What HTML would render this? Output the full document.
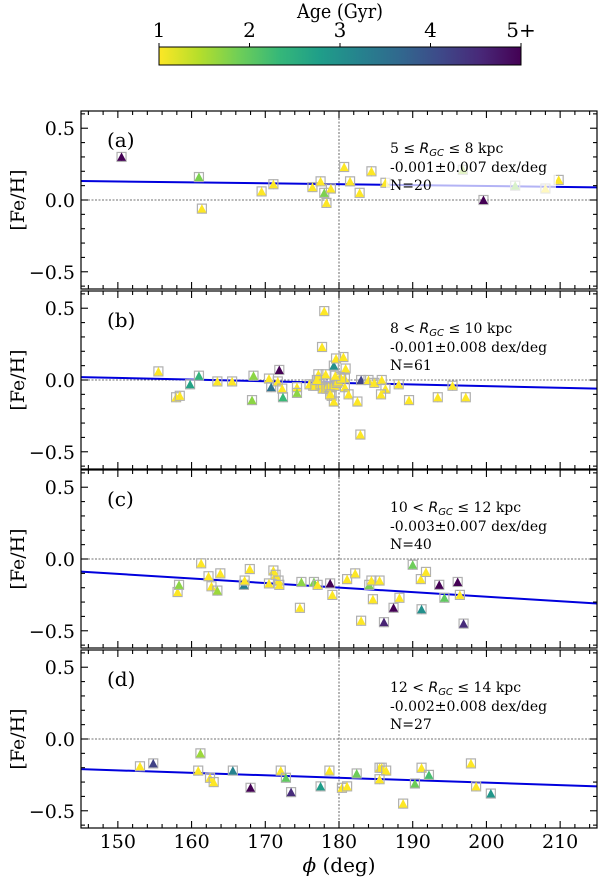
<!DOCTYPE html>
<html><head><meta charset="utf-8">
<style>
html,body{margin:0;padding:0;background:#fff;}
svg{display:block;font-family:"DejaVu Serif","Liberation Serif",serif;}
#cbtitle{font-size:20px;}
</style></head>
<body>
<svg id="chart" width="600" height="880" viewBox="0 0 600 880" xmlns="http://www.w3.org/2000/svg">
<defs>
<linearGradient id="vir" x1="0" x2="1" y1="0" y2="0">
<stop offset="0" stop-color="#fde725"/><stop offset="0.111" stop-color="#b5de2b"/><stop offset="0.222" stop-color="#6ece58"/><stop offset="0.333" stop-color="#35b779"/><stop offset="0.444" stop-color="#1f9e89"/><stop offset="0.556" stop-color="#26828e"/><stop offset="0.667" stop-color="#31688e"/><stop offset="0.778" stop-color="#3e4989"/><stop offset="0.889" stop-color="#482878"/><stop offset="1" stop-color="#440154"/>
</linearGradient>
</defs>
<g>
<text id="cbtitle" x="340" y="18" font-size="20" text-anchor="middle" textLength="86" lengthAdjust="spacingAndGlyphs">Age (Gyr)</text>
<rect x="159" y="47" width="362" height="18" fill="url(#vir)" stroke="#000" stroke-width="1"/>
<g id="cbticks"></g>
</g>
<g id="panels"></g>
<text x="339" y="872" style="font-size:20px" text-anchor="middle"><tspan font-style="italic">ϕ</tspan> (deg)</text>
</svg>
<script>
// ---- data ----
const cbTickLabels = ["1","2","3","4","5+"];
const panelLabels = ["(a)","(b)","(c)","(d)"];
const rangeLo = ["5 ≤ ","8 < ","10 < ","12 < "];
const rangeHi = [" ≤ 8 kpc"," ≤ 10 kpc"," ≤ 12 kpc"," ≤ 14 kpc"];
const slopeText = ["-0.001±0.007 dex/deg","-0.001±0.008 dex/deg","-0.003±0.007 dex/deg","-0.002±0.008 dex/deg"];
const nText = ["N=20","N=61","N=40","N=27"];
const xTicks = [150,160,170,180,190,200,210];
const yTicks = [-0.5,0.0,0.5];
// fit line values at phi=145 and phi=215
const fitStart = [0.132, 0.02, -0.088, -0.21];
const fitEnd = [0.088, -0.06, -0.31, -0.33];
// points: [phi, feh, age]
const pointsA = [[150.5,0.30,5],[161.0,0.16,1.8],[161.4,-0.06,1],[169.5,0.06,1],[171.1,0.11,1],[176.4,0.09,1],[177.5,0.13,1],[178.0,0.05,1.8],[178.9,0.08,1],[178.3,-0.02,1],[180.7,0.23,1],[181.5,0.13,1],[182.8,0.05,1],[184.4,0.20,1],[186.3,0.12,1],[196.8,0.21,1.6],[199.6,0.00,5],[203.9,0.10,1.8],[208.0,0.08,1],[209.8,0.14,1]];
const pointsB = [[155.5,0.06,1],[157.9,-0.12,1],[158.4,-0.11,1],[159.8,-0.03,2.7],[161.0,0.03,2.4],[163.5,-0.01,1],[165.5,-0.01,1],[168.2,-0.14,1.7],[168.4,0.03,1.7],[170.5,0.01,1],[170.8,-0.05,3.5],[171.7,-0.01,1],[171.9,0.07,5],[172.3,-0.06,1],[172.4,-0.12,2.3],[174.3,-0.05,1],[174.3,-0.09,1.7],[176.5,-0.04,1],[177.2,0.04,1],[177.3,0.00,1],[178.0,0.48,1],[177.7,0.23,1],[178.2,0.04,1],[178.2,-0.05,1],[179.3,0.10,3],[179.6,0.15,1],[179.0,-0.11,1],[179.3,-0.15,1],[180.6,0.16,1],[180.9,0.08,1],[180.1,0.02,1],[180.8,0.01,1],[180.8,-0.05,1],[181.3,-0.10,1],[182.5,-0.15,1],[182.9,-0.38,1],[183.0,0.00,4.2],[184.0,0.00,1],[184.8,-0.02,1],[185.8,0.00,1],[186.3,-0.06,1],[185.7,-0.10,1],[188.1,-0.03,1],[189.5,-0.14,1],[193.4,-0.12,1],[195.4,-0.04,1],[197.2,-0.12,1],[176.0,-0.03,1],[176.8,-0.04,1],[177.5,-0.03,1],[177.8,-0.06,1],[178.3,-0.06,1],[178.6,-0.05,1],[179.0,-0.05,1],[179.4,-0.04,1],[179.7,-0.02,1],[179.9,-0.01,1],[180.3,0.01,1],[178.8,-0.10,1],[177.0,0.00,1],[179.5,0.03,1]];
const pointsC = [[158.1,-0.23,1],[158.3,-0.18,1.7],[161.3,-0.03,1],[162.3,-0.12,1],[162.7,-0.19,1],[163.5,-0.22,1.6],[163.9,-0.10,1],[167.1,-0.18,3.3],[167.2,-0.15,1],[167.9,-0.07,1],[170.5,-0.17,1],[171.1,-0.08,1],[171.4,-0.11,1],[171.8,-0.15,1],[171.9,-0.18,1],[174.7,-0.34,1],[174.9,-0.16,1.7],[176.6,-0.16,1.8],[177.1,-0.18,1],[178.8,-0.17,5],[179.1,-0.25,1],[181.1,-0.14,1],[182.2,-0.10,1],[183.0,-0.43,1],[184.1,-0.18,1.8],[184.4,-0.15,1],[184.6,-0.28,1],[185.5,-0.15,1],[186.1,-0.44,4.6],[187.4,-0.34,5],[188.2,-0.27,1],[190.0,-0.04,1.9],[191.1,-0.14,1],[191.2,-0.35,3],[191.8,-0.09,1],[193.6,-0.18,5],[194.3,-0.27,2],[196.1,-0.16,5],[196.4,-0.25,1],[196.9,-0.45,4.5]];
const pointsD = [[153.0,-0.19,1],[154.8,-0.17,4.2],[160.9,-0.22,1],[161.2,-0.10,1.6],[162.5,-0.27,1],[163.0,-0.30,1],[165.6,-0.22,3.2],[168.0,-0.34,5],[172.1,-0.22,1],[172.8,-0.27,2],[173.5,-0.37,4.5],[177.5,-0.33,2.8],[178.7,-0.22,1],[180.4,-0.34,1],[181.1,-0.33,1],[182.4,-0.24,1.9],[185.5,-0.20,1],[185.8,-0.20,1],[186.4,-0.22,1],[185.5,-0.28,1],[188.7,-0.45,1],[190.3,-0.31,1.9],[191.2,-0.20,1],[192.2,-0.25,2.2],[197.9,-0.17,1],[198.6,-0.33,1],[200.6,-0.38,2.9]];
const allPoints = [pointsA, pointsB, pointsC, pointsD];

// ---- layout ----
const NS = "http://www.w3.org/2000/svg";
const X0 = 81, X1 = 597, PH0 = 145, PH1 = 215;
const panelTop = [111, 291, 470, 650], PHT = 178, YMIN = -0.62, YMAX = 0.62;
const xs = p => X0 + (p - PH0) / (PH1 - PH0) * (X1 - X0);
const ysF = i => v => panelTop[i] + (YMAX - v) / (YMAX - YMIN) * PHT;
const vir = ["#440154","#482878","#3e4989","#31688e","#26828e","#1f9e89","#35b779","#6ece58","#b5de2b","#fde725"];
function hex(h){return [1,3,5].map(k=>parseInt(h.substr(k,2),16));}
function ageColor(a){
  let t = 1 - (Math.min(Math.max(a,1),5) - 1) / 4;
  let f = t * (vir.length - 1), i = Math.min(Math.floor(f), vir.length - 2), r = f - i;
  const c0 = hex(vir[i]), c1 = hex(vir[i+1]);
  return "rgb(" + c0.map((v,k)=>Math.round(v + (c1[k]-v)*r)).join(",") + ")";
}
function mk(tag, attrs, parent){
  const e = document.createElementNS(NS, tag);
  for (const k in attrs) e.setAttribute(k, attrs[k]);
  parent.appendChild(e); return e;
}

const cbt = document.getElementById("cbticks");
cbTickLabels.forEach((lab, i) => {
  const x = 159 + i * 362 / 4;
  const t = mk("line", {x1:x, x2:x, y1:43, y2:47, stroke:"#000"}, cbt);
  
  
  const tx = mk("text", {x:x, y:37, style:"font-size:20px", "text-anchor":"middle"}, cbt);
  
  
  tx.textContent = lab;
});

const root = document.getElementById("panels");
for (let i = 0; i < 4; i++) {
  const ys = ysF(i), top = panelTop[i], bot = top + PHT;
  const g = mk("g", {}, root);
  
  
  const h0 = mk("line", {x1:X0, x2:X1, y1:ys(0), y2:ys(0), stroke:"#444", "stroke-width":0.8, "stroke-dasharray":"2,1.5"}, g);
  
  
  const v0 = mk("line", {x1:xs(180), x2:xs(180), y1:top, y2:bot, stroke:"#444", "stroke-width":0.8, "stroke-dasharray":"2,1.5"}, g);
  
  
  const fl = mk("line", {x1:xs(PH0), x2:xs(PH1), y1:ys(fitStart[i]), y2:ys(fitEnd[i]), stroke:"#0000dd", "stroke-width":2}, g);
  
  
  allPoints[i].forEach(p => {
    const x = xs(p[0]), y = ys(p[1]);
    const pg = mk("g", {}, g);
    
    
    mk("line", {x1:x, x2:x, y1:y-5, y2:y+5, stroke:"#aaa", "stroke-width":1}, pg);
    mk("rect", {x:x-4.5, y:y-4.5, width:9, height:9, fill:"none", stroke:"#b0b0b0", "stroke-width":1.2}, pg);
    mk("polygon", {points:(x-4.5)+","+(y+4)+" "+(x+4.5)+","+(y+4)+" "+x+","+(y-4.5), fill:ageColor(p[2])}, pg);
  });
  const bx = mk("rect", {x:386, y:top+25, width:170, height:58, fill:"#fff", opacity:0.7}, g);
  
  
  const t1 = mk("text", {x:390, y:top+42, style:"font-size:14px"}, g);
  
  
  const s1 = mk("tspan", {}, t1); s1.textContent = rangeLo[i];
  const s2 = mk("tspan", {"font-style":"italic","font-family":"DejaVu Sans, sans-serif"}, t1); s2.textContent = "R";
  const s3 = mk("tspan", {"font-style":"italic",style:"font-size:10px","dy":3,"font-family":"DejaVu Sans, sans-serif"}, t1); s3.textContent = "GC";
  const s4 = mk("tspan", {"dy":-3}, t1); s4.textContent = rangeHi[i];
  const t2 = mk("text", {x:390, y:top+61, style:"font-size:14px"}, g);
  
  
  t2.textContent = slopeText[i];
  const t3 = mk("text", {x:390, y:top+79, style:"font-size:14px"}, g);
  
  
  t3.textContent = nText[i];
  const pl = mk("text", {x:107, y:top+36, style:"font-size:20px"}, g);
  
  
  pl.textContent = panelLabels[i];
  const fr = mk("rect", {x:X0, y:top, width:X1-X0, height:PHT, fill:"none", stroke:"#000", "stroke-width":1.2}, g);
  
  
  for (let ph = 146; ph <= 214; ph += 2) {
    const major = ph % 10 === 0, L = major ? 7 : 4, x = xs(ph);
    mk("line", {x1:x, x2:x, y1:bot, y2:bot-L, stroke:"#000", "stroke-width":1.1}, g);
    mk("line", {x1:x, x2:x, y1:top, y2:top+L, stroke:"#000", "stroke-width":1.1}, g);
  }
  for (let k = -6; k <= 6; k++) {
    const v = k / 10, major = k % 5 === 0, L = major ? 7 : 4, y = ys(v);
    mk("line", {x1:X0, x2:X0+L, y1:y, y2:y, stroke:"#000", "stroke-width":1.1}, g);
    mk("line", {x1:X1, x2:X1-L, y1:y, y2:y, stroke:"#000", "stroke-width":1.1}, g);
  }
  yTicks.forEach(v => {
    const t = mk("text", {x:X0-6, y:ys(v)+7, style:"font-size:19px", "text-anchor":"end"}, g);
    
    
    t.textContent = v === 0 ? "0.0" : (v < 0 ? "−" + Math.abs(v).toFixed(1) : v.toFixed(1));
  });
  const yl = mk("text", {x:0, y:0, style:"font-size:19px", "text-anchor":"middle", transform:"translate(24," + ys(0) + ") rotate(-90)"}, g);
  
  
  yl.textContent = "[Fe/H]";
  if (i === 3) {
    xTicks.forEach(v => {
      const t = mk("text", {x:xs(v), y:bot+20, style:"font-size:19px", "text-anchor":"middle"}, g);
      
      
      t.textContent = v;
    });
  }
}
</script>
</body></html>
